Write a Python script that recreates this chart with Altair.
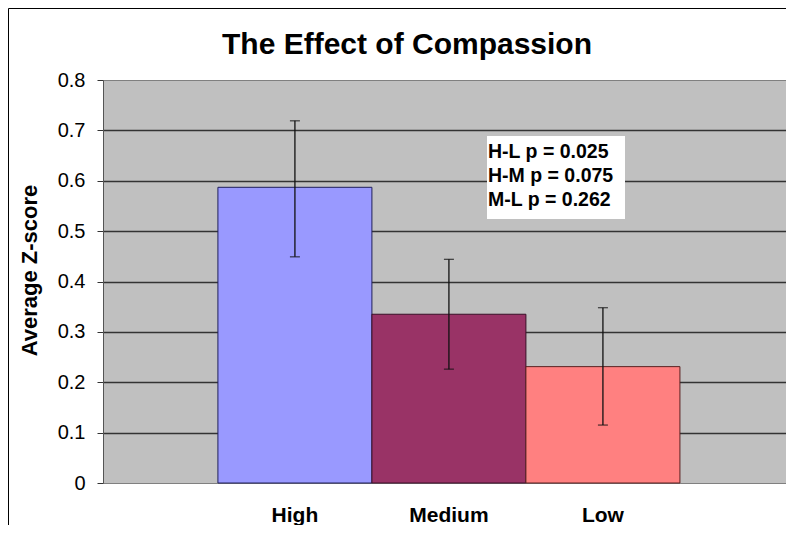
import altair as alt
import pandas as pd

# ---- data ----
categories = ["High", "Medium", "Low"]
means = [0.587, 0.335, 0.231]
err_low = [0.449, 0.226, 0.115]
err_high = [0.719, 0.444, 0.348]
fill_colors = ["#9999FF", "#993366", "#FF8080"]
edge_colors = ["#20205A", "#3A1028", "#5A2020"]
y_ticks = [0, 0.1, 0.2, 0.3, 0.4, 0.5, 0.6, 0.7, 0.8]
pvalue_lines = ["H-L p = 0.025", "H-M p = 0.075", "M-L p = 0.262"]
chart_title = "The Effect of Compassion"

df = pd.DataFrame({"group": categories, "mean": means, "lo": err_low, "hi": err_high})

FONT = "Liberation Sans"
W, H = 683, 403

x_enc = alt.X(
    "group:N",
    sort=categories,
    scale=alt.Scale(paddingInner=0, paddingOuter=0.7175, align=0.52),
    axis=alt.Axis(
        title=None,
        labelFont=FONT,
        labelFontSize=21,
        labelFontWeight="bold",
        labelColor="black",
        labelPadding=38,
        labelBaseline="alphabetic",
        labelAngle=0,
        ticks=False,
        domain=False,
        grid=False,
    ),
)

y_scale = alt.Scale(domain=[0, 0.8], nice=False, zero=True)

bars = alt.Chart(df).mark_bar(strokeWidth=1).encode(
    x=x_enc,
    y=alt.Y(
        "mean:Q",
        scale=y_scale,
        axis=alt.Axis(
            values=y_ticks,
            format="~g",
            labelFont=FONT,
            labelFontSize=20,
            labelColor="black",
            labelPadding=12,
            tickSize=6,
            tickColor="#333333",
            domainColor="#555555",
            grid=True,
            gridColor="#333333",
            gridWidth=1.3,
            gridOpacity={"condition": {"test": "datum.value < 0.05 || datum.value > 0.75", "value": 0}, "value": 1},
            title="Average Z-score",
            titleFont=FONT,
            titleFontSize=22,
            titleFontWeight="bold",
            titleColor="black",
            titleAngle=270,
            titleX=-74,
            titleY=190,
            titleAlign="center",
            titleBaseline="middle",
        ),
    ),
    color=alt.Color("group:N", scale=alt.Scale(domain=categories, range=fill_colors), legend=None),
    stroke=alt.Stroke("group:N", scale=alt.Scale(domain=categories, range=edge_colors), legend=None),
)

err_rule = alt.Chart(df).mark_rule(color="#111111", strokeWidth=1.3).encode(
    x=x_enc, y=alt.Y("lo:Q", scale=y_scale), y2="hi:Q"
)
cap_lo = alt.Chart(df).mark_tick(color="#111111", thickness=1.3, size=10).encode(
    x=x_enc, y=alt.Y("lo:Q", scale=y_scale)
)
cap_hi = alt.Chart(df).mark_tick(color="#111111", thickness=1.3, size=10).encode(
    x=x_enc, y=alt.Y("hi:Q", scale=y_scale)
)

one = alt.Data(values=[{"k": 1}])

note_box = alt.Chart(one).mark_rect(fill="white").encode(
    x=alt.value(384), x2=alt.value(522), y=alt.value(56), y2=alt.value(139)
)
note_text = alt.Chart(one).mark_text(
    align="left", baseline="alphabetic", font=FONT, fontSize=19.5, fontWeight="bold",
    lineHeight=24, color="black",
).encode(x=alt.value(385), y=alt.value(78), text=alt.value(pvalue_lines))

title_text = alt.Chart(one).mark_text(
    align="center", baseline="alphabetic", font=FONT, fontSize=30, fontWeight="bold",
    color="black",
).encode(x=alt.value(304), y=alt.value(-26), text=alt.value(chart_title))

frame = alt.Chart(one).mark_rect(fillOpacity=0, stroke="black", strokeWidth=1).encode(
    x=alt.value(-94.5), y=alt.value(-71.5), x2=alt.value(W + 60), y2=alt.value(H + 120)
)

chart = (
    alt.layer(bars, err_rule, cap_lo, cap_hi, note_box, note_text, title_text, frame)
    .properties(
        width=W,
        height=H,
        padding={"left": 95, "top": 72, "right": 0, "bottom": 42},
        autosize=alt.AutoSizeParams(type="none"),
        background="white",
    )
    .configure_view(fill="#C0C0C0", stroke="#808080", strokeWidth=1)
)

chart.save("out.html", embed_options={"renderer": "svg", "actions": False})
